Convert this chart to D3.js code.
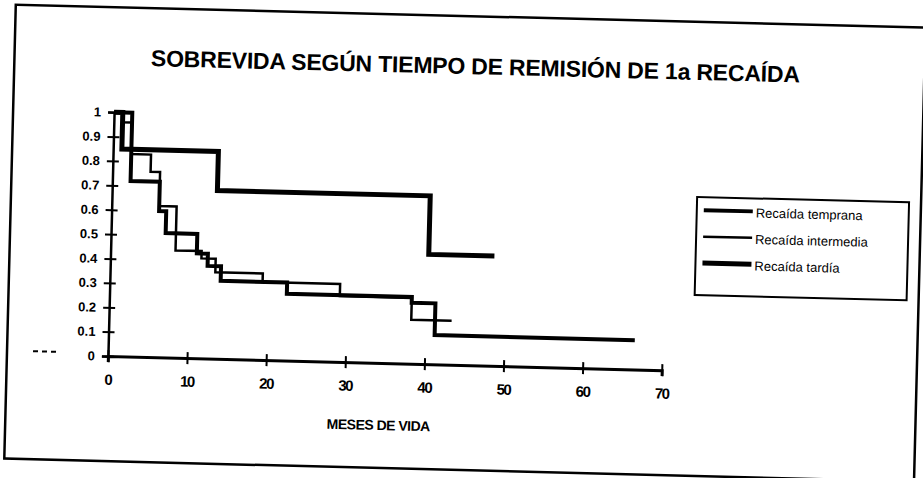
<!DOCTYPE html>
<html>
<head>
    <title>Sobrevida</title>
    <meta http-equiv="content-type" content="text/html; charset=UTF-8">
    <script type="text/javascript" src="https://cdn.jsdelivr.net/npm/d3@7/dist/d3.min.js"></script>
</head>
<body style="margin:0;background:#fff;">

<style>
    text {
        font-family: "Liberation Sans", Arial, sans-serif;
        fill: #000;
    }
    .axis path, .axis line {
        stroke: #000;
    }
</style>

<script type="text/javascript">
    var titulo = "SOBREVIDA SEGÚN TIEMPO DE REMISIÓN DE 1a RECAÍDA";
    var tituloX = "MESES DE VIDA";

    var nombres = ["Recaída temprana", "Recaída intermedia", "Recaída tardía"];

    // meses / sobrevida acumulada (escalones)
    var mesesTemprana = [0, 2.3, 6.0, 6.9, 10.9, 12.3, 14.0, 22.4, 38.2, 41.2, 66.5];
    var sobrevidaTemprana = [1, 0.72, 0.60, 0.51, 0.43, 0.38, 0.32, 0.274, 0.25, 0.12, 0.12];

    var mesesIntermedia = [0, 1.1, 2.3, 4.8, 6.0, 8.2, 11.5, 13.3, 19.3, 29.1, 38.2, 43.3];
    var sobrevidaIntermedia = [1, 0.96, 0.83, 0.76, 0.62, 0.44, 0.41, 0.355, 0.32, 0.27, 0.18, 0.18];

    var mesesTardia = [0, 1.1, 13.3, 40.2, 48.5];
    var sobrevidaTardia = [1, 0.85, 0.69, 0.45, 0.45];

    var ticksX = [0, 10, 20, 30, 40, 50, 60, 70];
    var ticksY = [0, 0.1, 0.2, 0.3, 0.4, 0.5, 0.6, 0.7, 0.8, 0.9, 1];

    var W = 923, H = 478;

    var svg = d3.select("body").append("svg")
        .attr("width", W)
        .attr("height", H);

    // the scanned page is slightly tilted
    var page = svg.append("g")
        .attr("transform", "rotate(1.45,461,239)");

    page.append("rect")
        .attr("x", 10).attr("y", 16)
        .attr("width", 910).attr("height", 454)
        .attr("fill", "none")
        .attr("stroke", "#000")
        .attr("stroke-width", 2.5);

    page.append("text")
        .attr("x", 471).attr("y", 74)
        .attr("text-anchor", "middle")
        .style("font-size", "23px")
        .style("font-weight", "bold")
        .attr("letter-spacing", "-0.2px")
        .text(titulo);

    var x = d3.scaleLinear().domain([0, 70]).range([111, 665]);
    var y = d3.scaleLinear().domain([0, 1]).range([365, 121]);

    var xAxis = page.append("g")
        .attr("class", "axis")
        .attr("transform", "translate(0," + y(0) + ")")
        .call(d3.axisBottom(x).tickValues(ticksX).tickSizeOuter(0).tickSize(6).tickPadding(12));
    xAxis.select(".domain").attr("stroke-width", 3);
    xAxis.selectAll(".tick line").attr("y1", -6).attr("stroke-width", 2);
    xAxis.selectAll(".tick text")
        .style("font-size", "15px")
        .style("font-weight", "bold")
        .attr("letter-spacing", "-1.5px");

    var yAxis = page.append("g")
        .attr("class", "axis")
        .attr("transform", "translate(" + x(0) + ",0)")
        .call(d3.axisLeft(y).tickValues(ticksY).tickSizeOuter(0).tickSize(6).tickPadding(7)
            .tickFormat(function (d) {
                return String(+d.toFixed(1));
            }));
    yAxis.select(".domain").attr("stroke-width", 2.5);
    yAxis.selectAll(".tick line").attr("x1", 6).attr("stroke-width", 2);
    yAxis.selectAll(".tick text")
        .style("font-size", "13px")
        .style("font-weight", "bold");

    page.append("text")
        .attr("x", 383).attr("y", 432)
        .attr("text-anchor", "middle")
        .style("font-size", "14px")
        .style("font-weight", "bold")
        .attr("letter-spacing", "-0.5px")
        .text(tituloX);

    // marca suelta a la izquierda del cero
    page.append("line")
        .attr("x1", 36).attr("x2", 60)
        .attr("y1", 362).attr("y2", 362)
        .attr("stroke", "#000")
        .attr("stroke-width", 2)
        .attr("stroke-dasharray", "5,4");

    var curvas = [
        {nombre: nombres[0], meses: mesesTemprana, sobrevida: sobrevidaTemprana, grosor: 4},
        {nombre: nombres[1], meses: mesesIntermedia, sobrevida: sobrevidaIntermedia, grosor: 2.5},
        {nombre: nombres[2], meses: mesesTardia, sobrevida: sobrevidaTardia, grosor: 5}
    ];

    var linea = d3.line()
        .x(function (d) { return x(d[0]); })
        .y(function (d) { return y(d[1]); })
        .curve(d3.curveStepAfter);

    page.selectAll(".curva")
        .data(curvas)
        .enter().append("path")
        .attr("class", "curva")
        .attr("fill", "none")
        .attr("stroke", "#000")
        .attr("stroke-width", function (d) { return d.grosor; })
        .attr("d", function (d) {
            return linea(d3.zip(d.meses, d.sobrevida));
        });

    // leyenda
    var leyenda = page.append("g");
    leyenda.append("rect")
        .attr("x", 696).attr("y", 191)
        .attr("width", 212).attr("height", 98)
        .attr("fill", "#fff")
        .attr("stroke", "#000")
        .attr("stroke-width", 2);

    var item = leyenda.selectAll(".item")
        .data(curvas)
        .enter().append("g")
        .attr("class", "item")
        .attr("transform", function (d, i) {
            return "translate(703," + (204 + i * 26.5) + ")";
        });
    item.append("line")
        .attr("x1", 0).attr("x2", 49)
        .attr("y1", 0).attr("y2", 0)
        .attr("stroke", "#000")
        .attr("stroke-width", function (d) { return d.grosor; });
    item.append("text")
        .attr("x", 52).attr("y", 6)
        .style("font-size", "13px")
        .text(function (d) { return d.nombre; });
</script>
</body>
</html>
